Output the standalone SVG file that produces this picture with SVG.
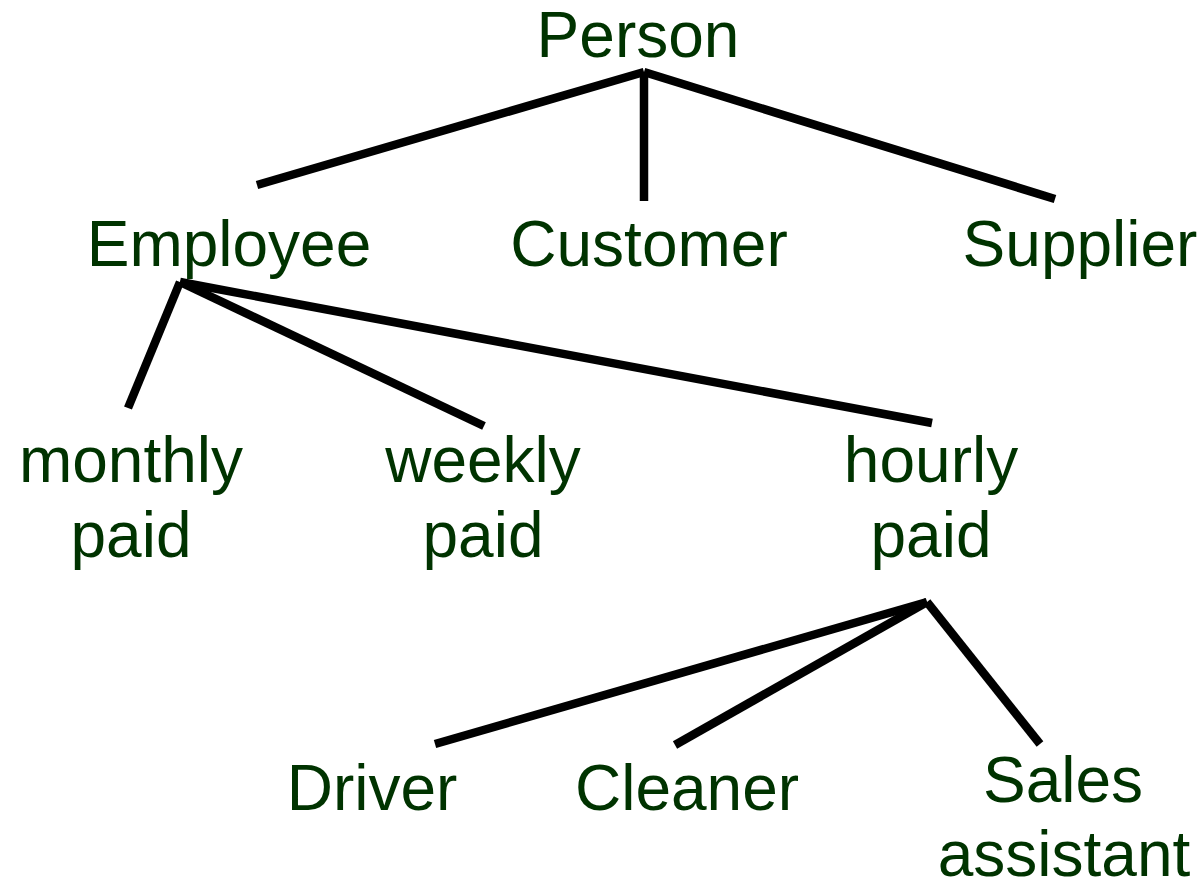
<svg xmlns="http://www.w3.org/2000/svg" width="1203" height="886" viewBox="0 0 1203 886">
  <style>
    .lbl { font-family: "Liberation Sans", Arial, sans-serif; font-size: 64px; fill: #003300; text-anchor: middle; }
    .edge { stroke: #000; stroke-width: 8.5; fill: none; stroke-linecap: butt; }
  </style>
  <rect width="1203" height="886" fill="#fff"/>
  <g id="connectors">
    <line class="edge" x1="644" y1="72" x2="257" y2="185"/>
    <line class="edge" x1="644" y1="72" x2="644" y2="201"/>
    <line class="edge" x1="644" y1="72" x2="1055" y2="199"/>
    <line class="edge" x1="180" y1="282" x2="128" y2="408"/>
    <line class="edge" x1="180" y1="282" x2="484" y2="426"/>
    <line class="edge" x1="180" y1="282" x2="932" y2="423"/>
    <line class="edge" x1="927" y1="602" x2="435" y2="744"/>
    <line class="edge" x1="927" y1="602" x2="675" y2="745"/>
    <line class="edge" x1="927" y1="602" x2="1040" y2="744"/>
  </g>
  <g id="person"><text class="lbl" x="638" y="57">Person</text></g>
  <g id="employee"><text class="lbl" x="229" y="266">Employee</text></g>
  <g id="customer"><text class="lbl" x="649" y="266">Customer</text></g>
  <g id="supplier"><text class="lbl" x="1080" y="266">Supplier</text></g>
  <g id="monthly-paid"><text class="lbl" x="131" y="482">monthly</text><text class="lbl" x="131" y="557">paid</text></g>
  <g id="weekly-paid"><text class="lbl" x="483" y="482">weekly</text><text class="lbl" x="483" y="557">paid</text></g>
  <g id="hourly-paid"><text class="lbl" x="931" y="482">hourly</text><text class="lbl" x="931" y="557">paid</text></g>
  <g id="driver"><text class="lbl" x="372" y="810">Driver</text></g>
  <g id="cleaner"><text class="lbl" x="687" y="810">Cleaner</text></g>
  <g id="sales-assistant"><text class="lbl" x="1063" y="802">Sales</text><text class="lbl" x="1064" y="876">assistant</text></g>
</svg>
